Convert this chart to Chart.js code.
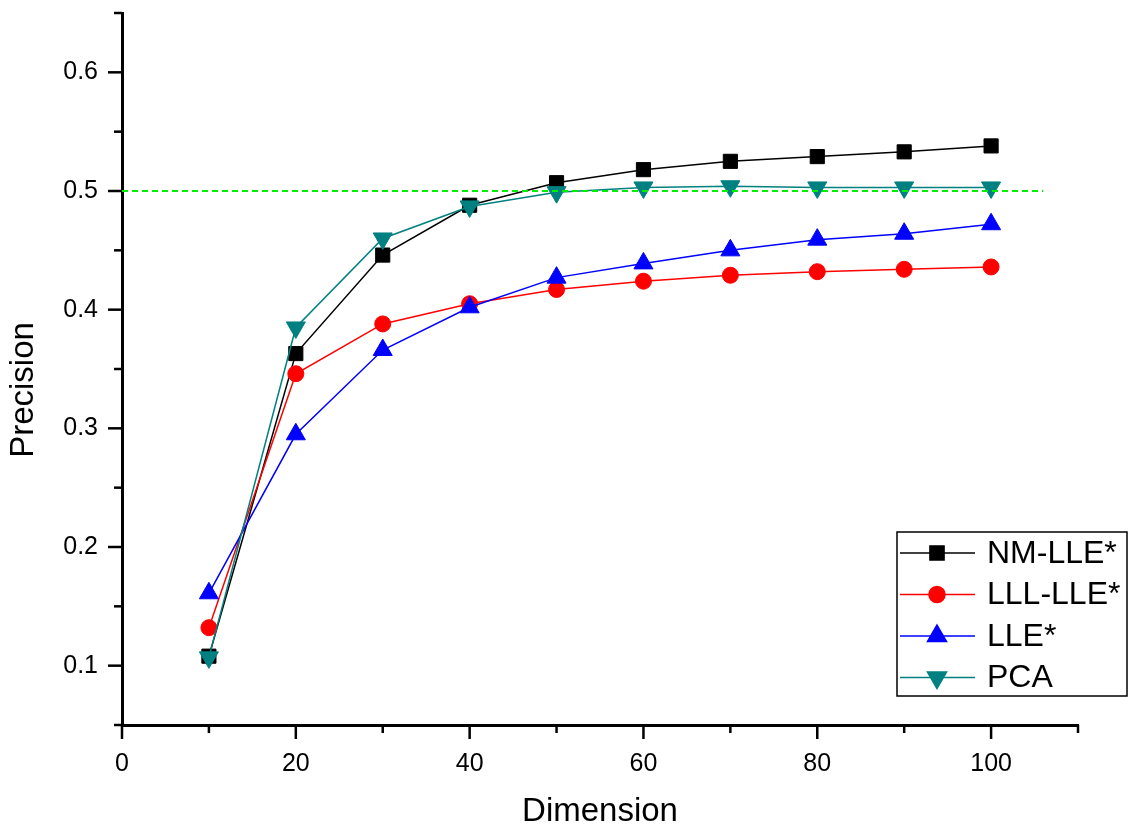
<!DOCTYPE html>
<html>
<head>
<meta charset="utf-8">
<script src="https://cdn.jsdelivr.net/npm/chart.js@4/dist/chart.umd.min.js"></script>
<style>
  body { margin: 0; background: #fff; }
  #wrap { width: 1135px; height: 833px; }
</style>
</head>
<body>
<div id="wrap"><canvas id="grafico"></canvas></div>
<script>
// datos
const dims = [10, 20, 30, 40, 50, 60, 70, 80, 90, 100];
const nmLle  = [0.108, 0.363, 0.446, 0.488, 0.507, 0.518, 0.525, 0.529, 0.533, 0.538];
const lllLle = [0.132, 0.346, 0.388, 0.405, 0.417, 0.424, 0.429, 0.432, 0.434, 0.436];
const lle    = [0.161, 0.295, 0.366, 0.402, 0.427, 0.439, 0.450, 0.459, 0.464, 0.472];
const pca    = [0.107, 0.385, 0.460, 0.487, 0.499, 0.503, 0.504, 0.503, 0.503, 0.503];
const umbral = 0.5;
const umbralX = [0, 106];
const xTicks = [0, 20, 40, 60, 80, 100];
const yTicks = [0.1, 0.2, 0.3, 0.4, 0.5, 0.6];

const FUENTE = "'Liberation Sans', Arial, sans-serif";

function serie(nombre, valores, color, estilo, radio, rot, orden) {
    return {
        label: nombre,
        data: dims.map((d, i) => ({ x: d, y: valores[i] })),
        borderColor: color,
        backgroundColor: color,
        borderWidth: 1.5,
        pointStyle: estilo,
        pointRadius: radio,
        pointHoverRadius: radio,
        pointRotation: rot,
        pointBorderWidth: 1,
        order: orden,
        tension: 0
    };
}

// marcas de los ejes (mayores con etiqueta, menores sin ella)
const marcasEjes = {
    id: 'marcasEjes',
    afterDraw(chart) {
        const ctx = chart.ctx;
        ctx.save();
        ctx.strokeStyle = '#000';
        ctx.lineWidth = 2.5;
        const sx = chart.scales.x, sy = chart.scales.y;
        sx.ticks.forEach(t => {
            const px = sx.getPixelForValue(t.value);
            const largo = xTicks.includes(t.value) ? 14 : 8;
            ctx.beginPath();
            ctx.moveTo(px, sx.top);
            ctx.lineTo(px, sx.top + largo);
            ctx.stroke();
        });
        sy.ticks.forEach(t => {
            const py = sy.getPixelForValue(t.value);
            const mayor = yTicks.some(v => Math.abs(v - t.value) < 1e-6);
            const largo = mayor ? 14 : 8;
            ctx.beginPath();
            ctx.moveTo(sy.right, py);
            ctx.lineTo(sy.right - largo, py);
            ctx.stroke();
        });
        // titulo del eje Y (algo por debajo del centro, como en el original)
        ctx.translate(24, 390);
        ctx.rotate(-Math.PI / 2);
        ctx.font = '33px ' + FUENTE;
        ctx.fillStyle = '#000';
        ctx.textAlign = 'center';
        ctx.textBaseline = 'middle';
        ctx.fillText('Precision', 0, 0);
        ctx.restore();
    }
};

// leyenda dentro del area del grafico
const leyenda = {
    id: 'leyenda',
    afterDraw(chart) {
        const ctx = chart.ctx;
        const x0 = 897, y0 = 532, w = 230, h = 164;
        ctx.save();
        ctx.fillStyle = '#fff';
        ctx.fillRect(x0, y0, w, h);
        ctx.strokeStyle = '#000';
        ctx.lineWidth = 1.5;
        ctx.strokeRect(x0, y0, w, h);
        ctx.font = '32px ' + FUENTE;
        ctx.textBaseline = 'middle';
        const series = chart.data.datasets.filter(d => d.label);
        series.forEach((d, i) => {
            const y = y0 + 21 + i * 41.5;
            ctx.strokeStyle = d.borderColor;
            ctx.lineWidth = 1.5;
            ctx.beginPath();
            ctx.moveTo(x0 + 3, y);
            ctx.lineTo(x0 + 78, y);
            ctx.stroke();
            ctx.fillStyle = d.backgroundColor;
            ctx.strokeStyle = d.borderColor;
            Chart.helpers.drawPoint(ctx, {
                pointStyle: d.pointStyle,
                radius: d.pointRadius,
                rotation: d.pointRotation,
                borderWidth: 1
            }, x0 + 40, y);
            ctx.fillStyle = '#000';
            ctx.fillText(d.label, x0 + 90, y + 1);
        });
        ctx.restore();
    }
};

const ctx = document.getElementById('grafico').getContext('2d');
new Chart(ctx, {
    type: 'line',
    data: {
        datasets: [
            serie('NM-LLE*', nmLle, '#000000', 'rect', 10, 0, 4),
            serie('LLL-LLE*', lllLle, '#ff0000', 'circle', 8, 0, 3),
            serie('LLE*', lle, '#0000ff', 'triangle', 11, 0, 2),
            serie('PCA', pca, '#008080', 'triangle', 11, 180, 1),
            {
                label: '',
                data: umbralX.map(x => ({ x: x, y: umbral })),
                borderColor: '#00ee00',
                borderWidth: 2,
                borderDash: [6, 4],
                pointRadius: 0,
                order: 0
            }
        ]
    },
    options: {
        responsive: true,
        maintainAspectRatio: false,
        animation: false,
        layout: { padding: { top: 13, right: 57, left: 0, bottom: 0 } },
        plugins: {
            legend: { display: false },
            tooltip: { enabled: false }
        },
        scales: {
            x: {
                type: 'linear',
                min: 0,
                max: 110,
                afterFit(s) { s.height = 108; s.paddingLeft = 0; s.paddingRight = 0; },
                grid: { display: true, drawOnChartArea: false, drawTicks: false },
                border: { display: true, width: 3, color: '#000' },
                ticks: {
                    stepSize: 10,
                    padding: 24,
                    color: '#000',
                    maxRotation: 0,
                    autoSkip: false,
                    font: { family: FUENTE, size: 25 },
                    callback: v => xTicks.includes(v) ? String(v) : ''
                },
                title: {
                    display: true,
                    text: 'Dimension',
                    color: '#000',
                    font: { family: FUENTE, size: 33, lineHeight: 1.2 },
                    padding: { top: 0, bottom: 1 }
                }
            },
            y: {
                min: 0.05,
                max: 0.65,
                afterFit(s) { s.width = 122; s.paddingTop = 0; s.paddingBottom = 0; },
                grid: { display: true, drawOnChartArea: false, drawTicks: false },
                border: { display: true, width: 3, color: '#000' },
                ticks: {
                    stepSize: 0.05,
                    padding: 24,
                    color: '#000',
                    autoSkip: false,
                    font: { family: FUENTE, size: 25 },
                    callback: v => {
                        const m = yTicks.find(t => Math.abs(t - v) < 1e-6);
                        return m !== undefined ? m.toFixed(1) : '';
                    }
                },
                title: { display: false }
            }
        }
    },
    plugins: [marcasEjes, leyenda]
});
</script>
</body>
</html>
